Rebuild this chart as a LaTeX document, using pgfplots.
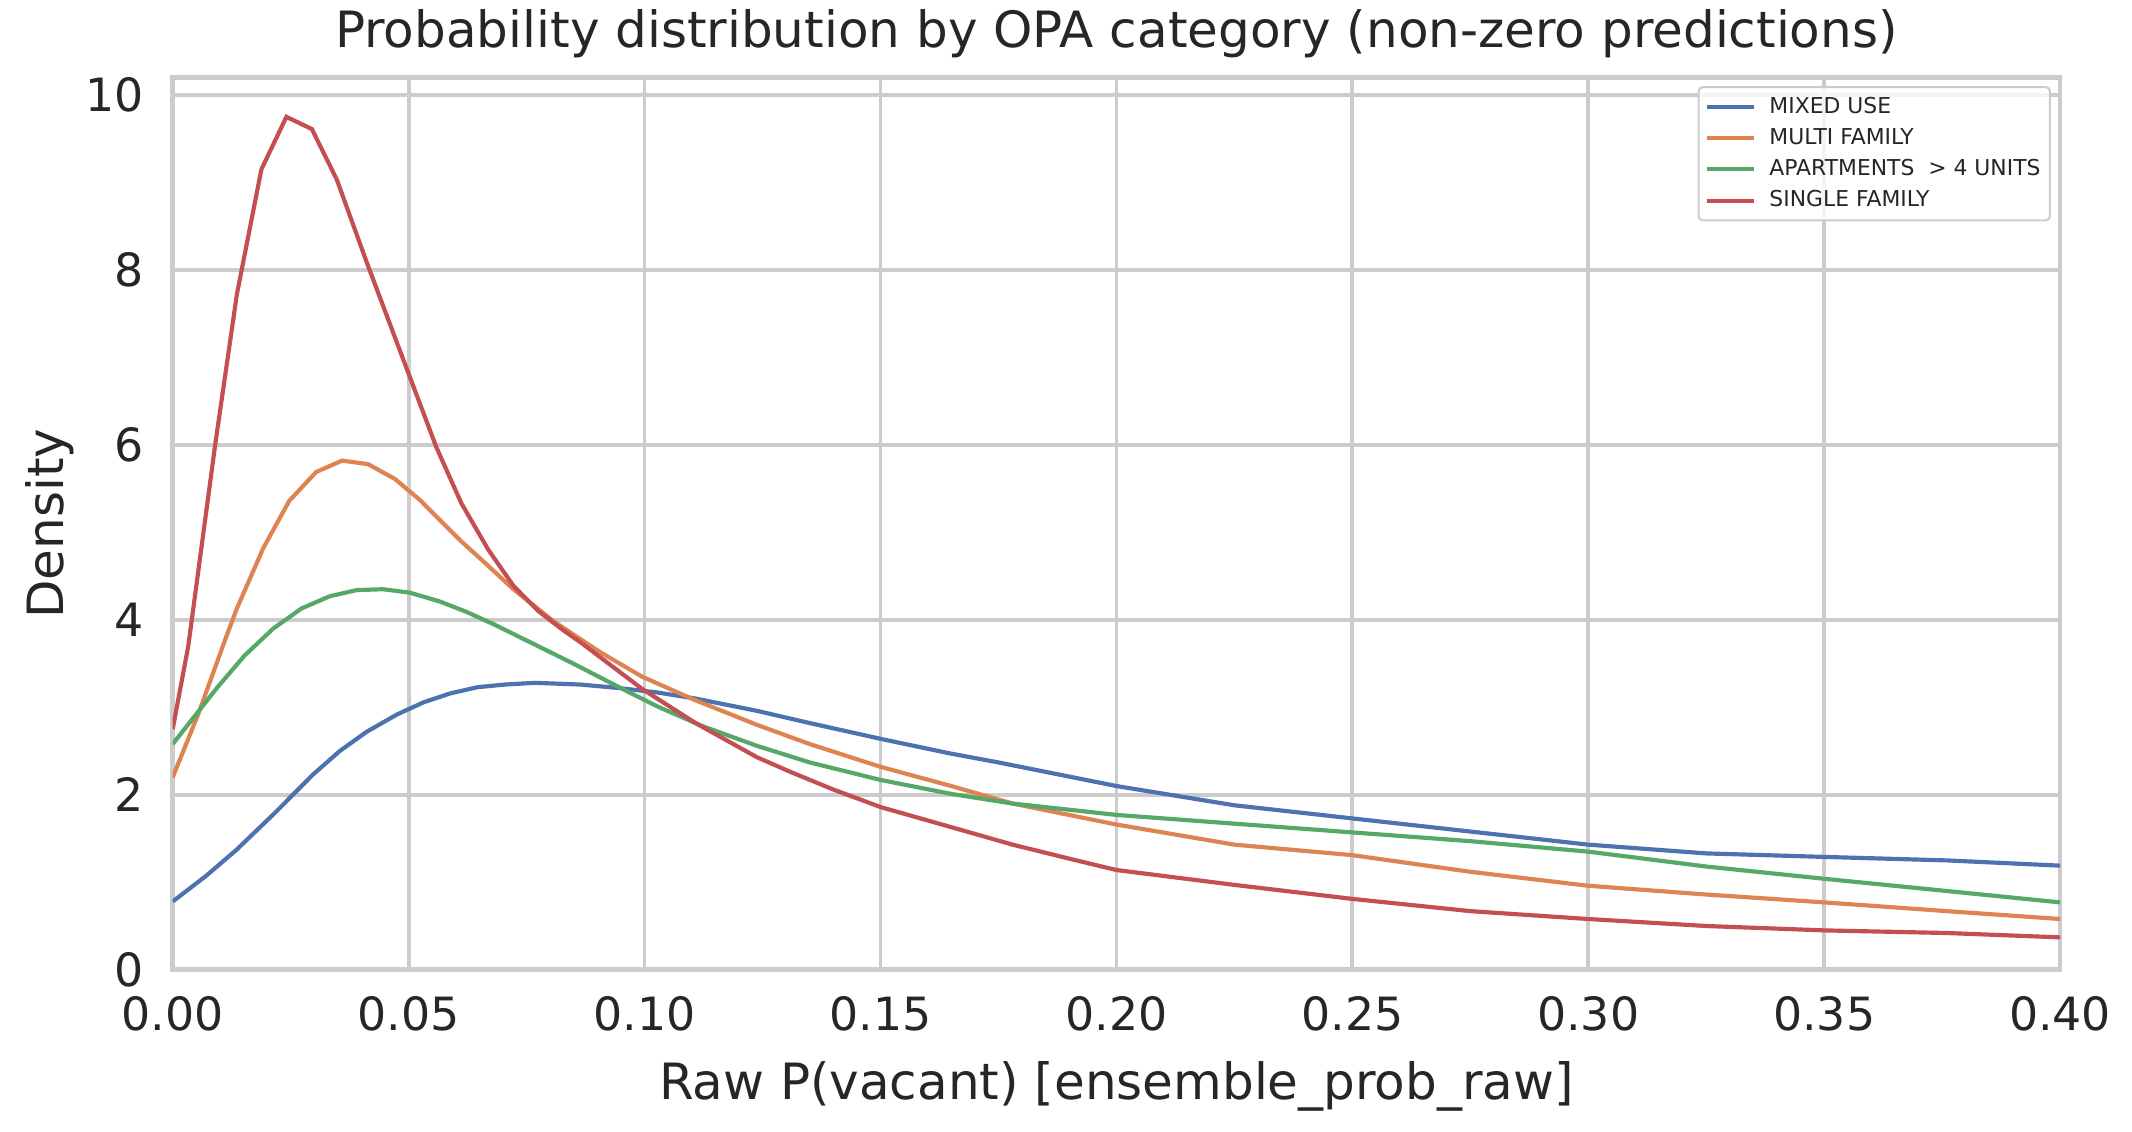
\documentclass[border=0pt]{standalone}
\usepackage{fontspec}
\setmainfont{DejaVu Sans}
\usepackage{pgfplots}
\pgfplotsset{compat=1.18}
\usepackage{pgfplotstable}
\definecolor{sbblue}{HTML}{4C72B0}
\definecolor{sborange}{HTML}{DD8452}
\definecolor{sbgreen}{HTML}{55A868}
\definecolor{sbred}{HTML}{C44E52}
\definecolor{gridgray}{HTML}{CCCCCC}
\definecolor{textgray}{HTML}{262626}

\pgfplotstableread{
x y
0 0.78
0.007 1.07
0.0135 1.37
0.0216 1.79
0.0297 2.23
0.0354 2.50
0.0411 2.72
0.0476 2.92
0.0533 3.06
0.0589 3.16
0.0646 3.23
0.0703 3.26
0.0768 3.28
0.0865 3.26
0.0946 3.22
0.1027 3.17
0.1108 3.10
0.1238 2.96
0.135 2.82
0.15 2.64
0.165 2.47
0.175 2.37
0.2 2.10
0.225 1.88
0.25 1.73
0.275 1.58
0.3 1.43
0.325 1.33
0.35 1.29
0.376 1.25
0.4 1.19
}\mixeduse

\pgfplotstableread{
x y
0 2.2
0.0054 2.92
0.0111 3.77
0.0136 4.13
0.0192 4.82
0.0247 5.36
0.0304 5.69
0.0359 5.82
0.0414 5.78
0.0471 5.61
0.0524 5.37
0.0609 4.91
0.0662 4.65
0.0722 4.35
0.0808 3.98
0.0906 3.63
0.0995 3.35
0.1108 3.08
0.1238 2.80
0.135 2.58
0.15 2.32
0.165 2.10
0.178 1.90
0.2 1.66
0.225 1.43
0.25 1.31
0.275 1.12
0.3 0.96
0.325 0.86
0.35 0.77
0.376 0.67
0.4 0.58
}\multifamily

\pgfplotstableread{
x y
0 2.58
0.0054 2.95
0.0095 3.23
0.0152 3.59
0.0213 3.90
0.0273 4.13
0.0333 4.27
0.039 4.34
0.0446 4.35
0.0503 4.31
0.0566 4.21
0.0623 4.09
0.068 3.95
0.0744 3.78
0.0849 3.50
0.0946 3.23
0.1027 3.01
0.1125 2.78
0.1238 2.56
0.135 2.37
0.15 2.17
0.165 2.01
0.178 1.90
0.2 1.77
0.225 1.67
0.25 1.57
0.275 1.47
0.3 1.35
0.325 1.18
0.35 1.04
0.376 0.90
0.4 0.77
}\apartments

\pgfplotstableread{
x y
0 2.75
0.0033 3.7
0.009 6.0
0.0136 7.72
0.0188 9.15
0.0241 9.75
0.0295 9.61
0.0348 9.03
0.0411 8.09
0.0496 6.87
0.0559 5.97
0.0612 5.33
0.0669 4.80
0.0722 4.39
0.0775 4.10
0.0828 3.88
0.0865 3.74
0.0995 3.21
0.1108 2.82
0.1238 2.43
0.131 2.26
0.14 2.06
0.15 1.86
0.165 1.63
0.178 1.43
0.19 1.27
0.2 1.14
0.225 0.97
0.25 0.81
0.275 0.67
0.3 0.58
0.325 0.50
0.35 0.45
0.376 0.42
0.4 0.37
}\singlefamily

\begin{document}
\begin{tikzpicture}
\begin{axis}[
  name=ax,
  scale only axis,
  width=906pt, height=428.3pt,
  xmin=0, xmax=0.4, ymin=0, ymax=10.2,
  xtick={0,0.05,0.1,0.15,0.2,0.25,0.3,0.35,0.4},
  ytick={0,2,4,6,8,10},
  scaled x ticks=false,
  grid=major,
  major grid style={color=gridgray, line width=1.8pt},
  axis line style={color=gridgray, line width=2.2pt},
  major tick length=0pt,
  /pgf/number format/assume math mode=true,
  tick label style={font=\fontsize{22}{26.4}\selectfont, text=textgray},
  xticklabel style={yshift=-9.5pt, /pgf/number format/.cd, fixed, fixed zerofill, precision=2},
  yticklabel style={xshift=-10.5pt},
  xlabel={Raw P(vacant) [ensemble\_prob\_raw]},
  ylabel={Density},
  label style={font=\fontsize{24}{28.8}\selectfont, text=textgray},
  xlabel style={at={(axis description cs:0.5,0)}, anchor=base, yshift=-62.4pt},
  ylabel style={at={(axis description cs:0,0.5)}, anchor=base, yshift=52.3pt},
  title={Probability distribution by OPA category (non-zero predictions)},
  title style={font=\fontsize{24}{28.8}\selectfont, text=textgray, at={(axis description cs:0.5,1)}, anchor=base, yshift=8.5pt},
  legend style={at={(rel axis cs:1,1)}, anchor=north east, xshift=-4.4pt, yshift=-4.1pt,
    font=\fontsize{10.5}{12.6}\selectfont, text=textgray,
    draw=gridgray, line width=1pt, rounded corners=2pt, fill=white, fill opacity=0.8, text opacity=1,
    inner xsep=3pt, inner ysep=3pt, row sep=2pt, column sep=5pt,
    nodes={inner sep=1.5pt, text height=8pt, text depth=2pt}},
  legend cell align=left,
  legend image code/.code={\draw[#1, line width=2pt] (0pt,0pt) -- (22.5pt,0pt);},
]
\addplot[sbblue, line width=2pt, sharp plot] table[x=x, y=y] {\mixeduse};
\addlegendentry{MIXED USE}
\addplot[sborange, line width=2pt, sharp plot] table[x=x, y=y] {\multifamily};
\addlegendentry{MULTI FAMILY}
\addplot[sbgreen, line width=2pt, sharp plot] table[x=x, y=y] {\apartments};
\addlegendentry{APARTMENTS\ \ > 4 UNITS}
\addplot[sbred, line width=2pt, sharp plot] table[x=x, y=y] {\singlefamily};
\addlegendentry{SINGLE FAMILY}
\end{axis}
\path ([shift={(-82.9pt,-77.5pt)}]ax.south west) rectangle ([shift={(34.5pt,37.2pt)}]ax.north east);
\end{tikzpicture}
\end{document}
